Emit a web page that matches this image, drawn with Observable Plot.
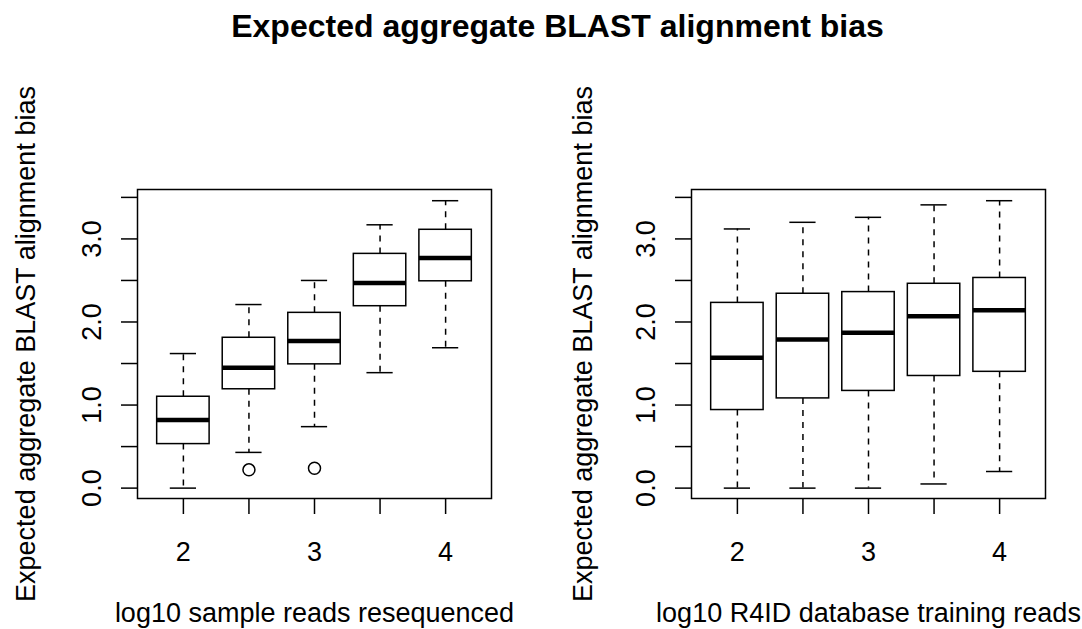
<!DOCTYPE html>
<html>
<head>
<meta charset="utf-8">
<script src="https://cdn.jsdelivr.net/npm/d3@7"></script>
<script src="https://cdn.jsdelivr.net/npm/@observablehq/plot@0.6"></script>
<style>
  body { margin: 0; background: #fff; }
  #chart { position: relative; width: 1082px; height: 629px; font-family: "Liberation Sans", Arial, Helvetica, sans-serif; }
  #title { position: absolute; left: 0; top: 10px; width: 1115px; text-align: center; white-space: nowrap;
           font-weight: bold; font-size: 32px; line-height: 32px; color: #000; }
  #chart svg { position: absolute; top: 0; }
</style>
</head>
<body>
<div id="chart">
  <div id="title">Expected aggregate BLAST alignment bias</div>
</div>
<script>
// ---- data ----
const titleText = "Expected aggregate BLAST alignment bias";
const yTitle = "Expected aggregate BLAST alignment bias";
const xLevels = [2, 2.5, 3, 3.5, 4];          // log10 groups
const yTicks = [0, 0.5, 1, 1.5, 2, 2.5, 3, 3.5];
const yTickLabels = [0, 1, 2, 3];

// Left panel: log10 sample reads resequenced
const readsLabel = "log10 sample reads resequenced";
const readsLower  = [0.00, 0.43, 0.74, 1.39, 1.69];
const readsQ1     = [0.53, 1.19, 1.49, 2.19, 2.49];
const readsMedian = [0.82, 1.45, 1.77, 2.47, 2.77];
const readsQ3     = [1.10, 1.81, 2.11, 2.82, 3.11];
const readsUpper  = [1.62, 2.21, 2.50, 3.17, 3.46];
const readsOutX   = [2.5, 3];
const readsOutY   = [0.22, 0.24];

// Right panel: log10 R4ID database training reads
const dbLabel = "log10 R4ID database training reads";
const dbLower  = [0.00, 0.00, 0.00, 0.05, 0.20];
const dbQ1     = [0.94, 1.08, 1.17, 1.35, 1.40];
const dbMedian = [1.57, 1.79, 1.87, 2.07, 2.14];
const dbQ3     = [2.23, 2.34, 2.36, 2.46, 2.53];
const dbUpper  = [3.12, 3.20, 3.26, 3.41, 3.46];
const dbOutX   = [];
const dbOutY   = [];

const FONT = "'Liberation Sans', Arial, Helvetica, sans-serif";

function panel({lower, q1, med, q3, upper, outX, outY, xLabel, marginLeft, marginRight, tickDx, titleDx}) {
  const rows = xLevels.map((x, i) => ({x, lower: lower[i], q1: q1[i], med: med[i], q3: q3[i], upper: upper[i]}));
  const outs = outX.map((x, i) => ({x, y: outY[i]}));
  const lw = 1.5;
  return Plot.plot({
    width: 541, height: 629,
    marginLeft, marginRight, marginTop: 189, marginBottom: 131,
    x: {domain: [1.65, 4.35], axis: null, label: null},
    y: {domain: [-0.125, 3.595], axis: null, label: null},
    style: {fontFamily: FONT, fontSize: "27px", background: "transparent", color: "#000", overflow: "visible"},
    marks: [
      Plot.ruleX(rows, {x: "x", y1: "q3", y2: "upper", stroke: "#000", strokeWidth: lw, strokeDasharray: "6,6"}),
      Plot.ruleX(rows, {x: "x", y1: "q1", y2: "lower", stroke: "#000", strokeWidth: lw, strokeDasharray: "6,6"}),
      Plot.rect(rows, {x1: d => d.x - 0.2, x2: d => d.x + 0.2, y1: "q1", y2: "q3", fill: "white", stroke: "#000", strokeWidth: lw}),
      Plot.ruleY(rows, {y: "med", x1: d => d.x - 0.2, x2: d => d.x + 0.2, stroke: "#000", strokeWidth: 4.5}),
      Plot.ruleY(rows, {y: "upper", x1: d => d.x - 0.1, x2: d => d.x + 0.1, stroke: "#000", strokeWidth: lw}),
      Plot.ruleY(rows, {y: "lower", x1: d => d.x - 0.1, x2: d => d.x + 0.1, stroke: "#000", strokeWidth: lw}),
      Plot.dot(outs, {x: "x", y: "y", r: 6, stroke: "#000", strokeWidth: lw, fill: "none"}),
      Plot.frame({stroke: "#000", strokeWidth: lw}),
      Plot.axisX({ticks: xLevels, tickSize: 16, tickPadding: 27, label: null, strokeWidth: lw,
                  tickFormat: d => Number.isInteger(d) ? String(d) : "", fontSize: 27}),
      Plot.axisY({ticks: yTicks, tickSize: 16, label: null, strokeWidth: lw, tickFormat: () => ""}),
      Plot.text(yTickLabels, {y: d => d, text: d => d.toFixed(1), frameAnchor: "left", dx: tickDx,
                  rotate: -90, lineAnchor: "bottom", textAnchor: "middle", fontSize: 27}),
      Plot.text([yTitle], {frameAnchor: "left", dx: titleDx, rotate: -90, lineAnchor: "bottom",
                  textAnchor: "middle", fontSize: 27}),
      Plot.text([xLabel], {frameAnchor: "bottom", dy: 123, lineAnchor: "bottom", textAnchor: "middle", fontSize: 27})
    ]
  });
}

const chart = document.getElementById("chart");
document.getElementById("title").textContent = titleText;

const left = panel({lower: readsLower, q1: readsQ1, med: readsMedian, q3: readsQ3, upper: readsUpper,
  outX: readsOutX, outY: readsOutY, xLabel: readsLabel, marginLeft: 137, marginRight: 50, tickDx: -37, titleDx: -103});
left.style.left = "0px";
chart.appendChild(left);

const right = panel({lower: dbLower, q1: dbQ1, med: dbMedian, q3: dbQ3, upper: dbUpper,
  outX: dbOutX, outY: dbOutY, xLabel: dbLabel, marginLeft: 150, marginRight: 37, tickDx: -37, titleDx: -100});
right.style.left = "541px";
chart.appendChild(right);
</script>
</body>
</html>
